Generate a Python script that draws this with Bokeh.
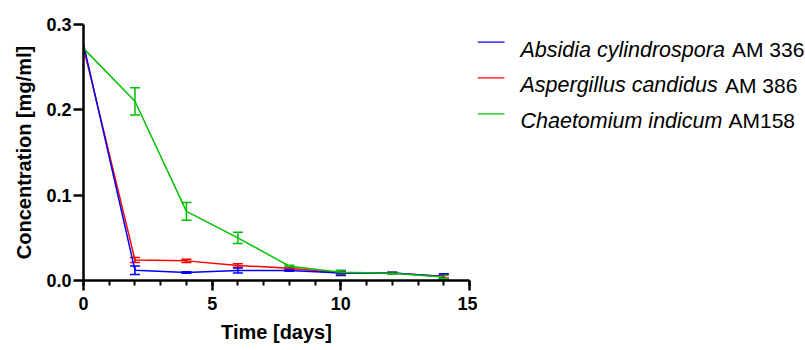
from bokeh.plotting import figure
from bokeh.models import Range1d, ColumnDataSource, Whisker, TeeHead, FixedTicker
from bokeh.layouts import row
from bokeh.embed import file_html
from bokeh.resources import INLINE
from bokeh.core.properties import value

days = [0, 2, 4, 6, 8, 10, 12, 14]
absidia = [0.277, 0.012, 0.0094, 0.0117, 0.0117, 0.0088, 0.0088, 0.0048]
absidia_err = [0, 0.005, 0.001, 0.003, 0.001, 0.003, 0.001, 0.003]
aspergillus = [0.273, 0.024, 0.023, 0.0176, 0.0143, 0.0088, 0.0088, 0.0048]
aspergillus_err = [0, 0.003, 0.002, 0.002, 0.001, 0.002, 0.001, 0.002]
chaetomium = [0.272, 0.210, 0.081, 0.050, 0.0168, 0.0098, 0.0085, 0.004]
chaetomium_err = [0, 0.016, 0.0105, 0.0065, 0.001, 0.002, 0.001, 0.002]

series_names = ["Absidia cylindrospora", "Aspergillus candidus", "Chaetomium indicum"]
series_codes = ["AM 336", "AM 386", "AM158"]
colors = ["#0000FF", "#FF0000", "#00C000"]
x_ticks = [0, 5, 10, 15]
y_ticks = [0.0, 0.1, 0.2, 0.3]
y_tick_labels = {0.0: "0.0", 0.1: "0.1", 0.2: "0.2", 0.3: "0.3"}

FONT = "Liberation Sans"

p = figure(width=477, height=350, output_backend="svg", toolbar_location=None,
           x_range=Range1d(0, 15), y_range=Range1d(0, 0.3),
           min_border_left=83, min_border_right=8, min_border_top=24, min_border_bottom=70)
p.outline_line_color = None
p.xgrid.visible = False
p.ygrid.visible = False
p.background_fill_color = "white"
p.border_fill_color = "white"

series = [(absidia, absidia_err, colors[0]),
          (aspergillus, aspergillus_err, colors[1]),
          (chaetomium, chaetomium_err, colors[2])]
# draw order: red, blue, green
for idx in [1, 0, 2]:
    vals, errs, col = series[idx]
    p.line(days, vals, line_color=col, line_width=1.5)
    bx = [d for d, e in zip(days, errs) if e > 0]
    up = [v + e for v, e in zip(vals, errs) if e > 0]
    lo = [v - e for v, e in zip(vals, errs) if e > 0]
    src = ColumnDataSource(dict(x=bx, upper=up, lower=lo))
    w = Whisker(base="x", upper="upper", lower="lower", source=src, dimension="height",
                line_color=col, line_width=1.5,
                upper_head=TeeHead(size=10, line_color=col, line_width=1.5),
                lower_head=TeeHead(size=10, line_color=col, line_width=1.5))
    p.add_layout(w)

for ax in (p.xaxis[0], p.yaxis[0]):
    ax.axis_line_width = 2.5
    ax.axis_line_color = "black"
    ax.major_tick_line_width = 2.5
    ax.major_tick_line_color = "black"
    ax.major_tick_in = 0
    ax.major_tick_out = 10
    ax.major_label_text_font = FONT
    ax.major_label_text_font_style = "bold"
    ax.major_label_text_font_size = "18px"
    ax.major_label_text_color = "black"
    ax.axis_label_text_font = FONT
    ax.axis_label_text_font_style = "bold"
    ax.axis_label_text_font_size = "20px"
    ax.axis_label_text_color = "black"

p.xaxis.ticker = FixedTicker(ticks=x_ticks, minor_ticks=list(range(0, 16)))
p.xaxis.minor_tick_in = 0
p.xaxis.minor_tick_out = 5
p.xaxis.minor_tick_line_width = 2
p.xaxis.minor_tick_line_color = "black"
p.xaxis.major_label_standoff = 6
p.xaxis.axis_label = "Time [days]"
p.xaxis.axis_label_standoff = 8

p.yaxis.ticker = FixedTicker(ticks=y_ticks, minor_ticks=[])
p.yaxis.major_label_overrides = y_tick_labels
p.yaxis.major_label_standoff = 2
p.yaxis.axis_label = "Concentration [mg/ml]"
p.yaxis.axis_label_standoff = 8

# legend panel (frame aligned with main frame: pixel rows 24..280)
lg = figure(width=328, height=350, output_backend="svg", toolbar_location=None,
            x_range=Range1d(477, 805), y_range=Range1d(280, 24),
            min_border_left=0, min_border_right=0, min_border_top=24, min_border_bottom=70,
            x_axis_location=None, y_axis_location=None)
lg.outline_line_color = None
lg.xgrid.visible = False
lg.ygrid.visible = False

line_y = [41.7, 77.3, 113.3]
base_y = [49.3, 84.6, 120.0]
code_x = [731.5, 724.5, 728.0]
lg.segment(x0=[477] * 3, x1=[504] * 3, y0=line_y, y1=line_y, line_color=colors, line_width=1.2)
lg.text(x=[520] * 3, y=base_y, text=series_names, text_font=value(FONT),
        text_font_style="italic", text_font_size="21.5px", text_baseline="alphabetic",
        text_color="black")
lg.text(x=code_x, y=base_y, text=series_codes, text_font=value(FONT),
        text_font_size="21px", text_baseline="alphabetic", text_color="black")

layout = row(p, lg)
open("out.html", "w").write(file_html(layout, INLINE))
